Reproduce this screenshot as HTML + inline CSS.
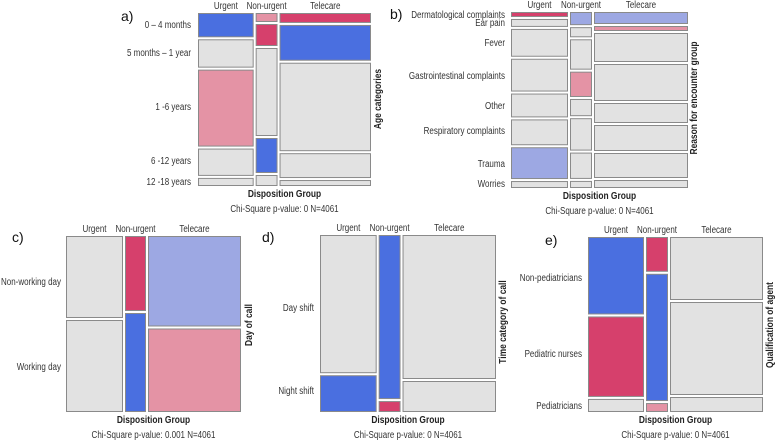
<!DOCTYPE html>
<html><head><meta charset="utf-8">
<style>
html,body{margin:0;padding:0;background:#fff;}
svg{display:block;font-family:"Liberation Sans",sans-serif;}
.lab{font-size:10px;fill:#333;}
.hdr{font-size:10px;fill:#333;}
.ttl{font-size:10.5px;font-weight:bold;fill:#222;}
.chi{font-size:10px;fill:#333;}
.pl{font-size:14px;fill:#111;}
</style></head>
<body>
<svg id="chart" width="777" height="441" viewBox="0 0 777 441"></svg>
<script>
// Column labels shared by all panels
const columnLabels = ["Urgent","Non-urgent","Telecare"];
// Panel a: age categories
const aRows = ["0 – 4 months","5 months – 1 year","1 -6 years","6 -12 years","12 -18 years"];
const aColShare = [56,22,92];
const aCells = [[24,28,76,27,8],[9,22,88,35,11],[10,36,89,25,6]];
const aColors = [["B","G","P","G","G"],["P","R","G","B","G"],["R","B","G","G","G"]];
// Panel b: reason for encounter
const bRows = ["Dermatological complaints","Ear pain","Fever","Gastrointestinal complaints","Other","Respiratory complaints","Trauma","Worries"];
const bColShare = [57,22,94];
const bCells = [[5,8,28,33,24,26,32,7],[13,10,30,25,17,32,26,7],[12,5,29,37,20,26,25,8]];
const bColors = [["R","G","G","G","G","G","L","G"],["L","G","G","P","G","G","G","G"],["L","P","G","G","G","G","G","G"]];
// Panel c: day of call
const cRows = ["Non-working day","Working day"];
const cColShare = [57,21,93];
const cCells = [[82,92],[75,99],[91,84]];
const cColors = [["G","G"],["R","B"],["L","P"]];
// Panel d: time category
const dRows = ["Day shift","Night shift"];
const dColShare = [57,22,94];
const dCells = [[139,37],[165,11],[144,31]];
const dColors = [["G","B"],["B","R"],["G","G"]];
// Panel e: qualification of agent
const eRows = ["Non-pediatricians","Pediatric nurses","Pediatricians"];
const eColShare = [56,22,93];
const eCells = [[77,80,13],[35,128,9],[63,93,15]];
const eColors = [["B","R","G"],["R","B","P"],["G","G","G"]];

const palette = {B:"#4a6fe0",R:"#d6406c",P:"#e493a5",L:"#9da8e3",G:"#e2e2e2"};
const NS = "http://www.w3.org/2000/svg";
const svg = document.getElementById("chart");

function mk(tag, attrs, parent){
  const el = document.createElementNS(NS, tag);
  for (const k in attrs) el.setAttribute(k, attrs[k]);
  (parent||svg).appendChild(el);
  return el;
}
function txt(s, attrs, cls, parent, narrow){
  const t = mk("text", attrs, parent);
  t.setAttribute("class", cls);
  t.textContent = s;
  if (narrow !== false) {
    const w = t.getComputedTextLength();
    if (w > 0) {
      t.setAttribute("textLength", (w*0.8).toFixed(1));
      t.setAttribute("lengthAdjust", "spacingAndGlyphs");
    }
  }
  return t;
}

function drawMosaic(p){
  const g = mk("g", {});
  
  
  const gap = 2;
  const W = p.x1 - p.x0, H = p.y1 - p.y0;
  const colTot = p.colShare.reduce((a,b)=>a+b,0);
  const usableW = W - gap*(p.colShare.length-1);
  let cx = p.x0;
  p.colShare.forEach((cs, ci)=>{
    const cw = usableW * cs / colTot;
    const vals = p.cells[ci];
    const tot = vals.reduce((a,b)=>a+b,0);
    const usableH = H - gap*(vals.length-1);
    let cy = p.y0;
    vals.forEach((v, ri)=>{
      const h = usableH * v / tot;
      const r = mk("rect", {x:cx+0.5, y:cy+0.5, width:Math.max(cw-1,0.5), height:Math.max(h-1,0.5),
        fill:palette[p.colors[ci][ri]], stroke:"#8a8a8a", "stroke-width":1}, g);
      
      
      cy += h + gap;
    });
    const hl = txt(columnLabels[ci], {x:cx+cw/2, y:p.y0-4, "text-anchor":"middle"}, "hdr", g);
    
    
    cx += cw + gap;
  });
  p.rows.forEach((rn, ri)=>{
    const t = txt(rn, {x:p.labX, y:p.rowY[ri], "text-anchor":"end"}, "lab", g);
    
    
  });
  const yt = txt(p.yTitle, {x:0, y:0, "text-anchor":"middle", transform:`translate(${p.ytX},${p.ytY}) rotate(-90)`}, "ttl", g);
  
  
  const xt = txt("Disposition Group", {x:(p.x0+p.x1)/2, y:p.y1+11, "text-anchor":"middle"}, "ttl", g);
  
  
  const ch = txt(p.chi, {x:(p.x0+p.x1)/2, y:p.y1+26, "text-anchor":"middle"}, "chi", g);
  
  
  const pl = txt(p.id + ")", {x:p.plX, y:p.plY}, "pl", g, false);
  
  
}

drawMosaic({id:"a", x0:198, x1:371, y0:13, y1:186, colShare:aColShare, cells:aCells, colors:aColors, rows:aRows,
  labX:191, rowY:[28,56,110,164,185], yTitle:"Age categories", ytX:381, ytY:99, chi:"Chi-Square p-value: 0 N=4061", plX:121, plY:21});
drawMosaic({id:"b", x0:511, x1:688, y0:12, y1:188, colShare:bColShare, cells:bCells, colors:bColors, rows:bRows,
  labX:505, rowY:[18,26,46,79,109,134,167,187], yTitle:"Reason for encounter group", ytX:697, ytY:98, chi:"Chi-Square p-value: 0 N=4061", plX:390, plY:19});
drawMosaic({id:"c", x0:66, x1:241, y0:236, y1:412, colShare:cColShare, cells:cCells, colors:cColors, rows:cRows,
  labX:61, rowY:[285,370], yTitle:"Day of call", ytX:252, ytY:325, chi:"Chi-Square p-value: 0.001 N=4061", plX:12, plY:242});
drawMosaic({id:"d", x0:320, x1:496, y0:235, y1:412, colShare:dColShare, cells:dCells, colors:dColors, rows:dRows,
  labX:314, rowY:[311,394], yTitle:"Time category of call", ytX:506, ytY:322, chi:"Chi-Square p-value: 0 N=4061", plX:262, plY:242});
drawMosaic({id:"e", x0:588, x1:763, y0:237, y1:412, colShare:eColShare, cells:eCells, colors:eColors, rows:eRows,
  labX:582, rowY:[281,357,409], yTitle:"Qualification of agent", ytX:773, ytY:325, chi:"Chi-Square p-value: 0 N=4061", plX:545, plY:245});
</script>
</body></html>
